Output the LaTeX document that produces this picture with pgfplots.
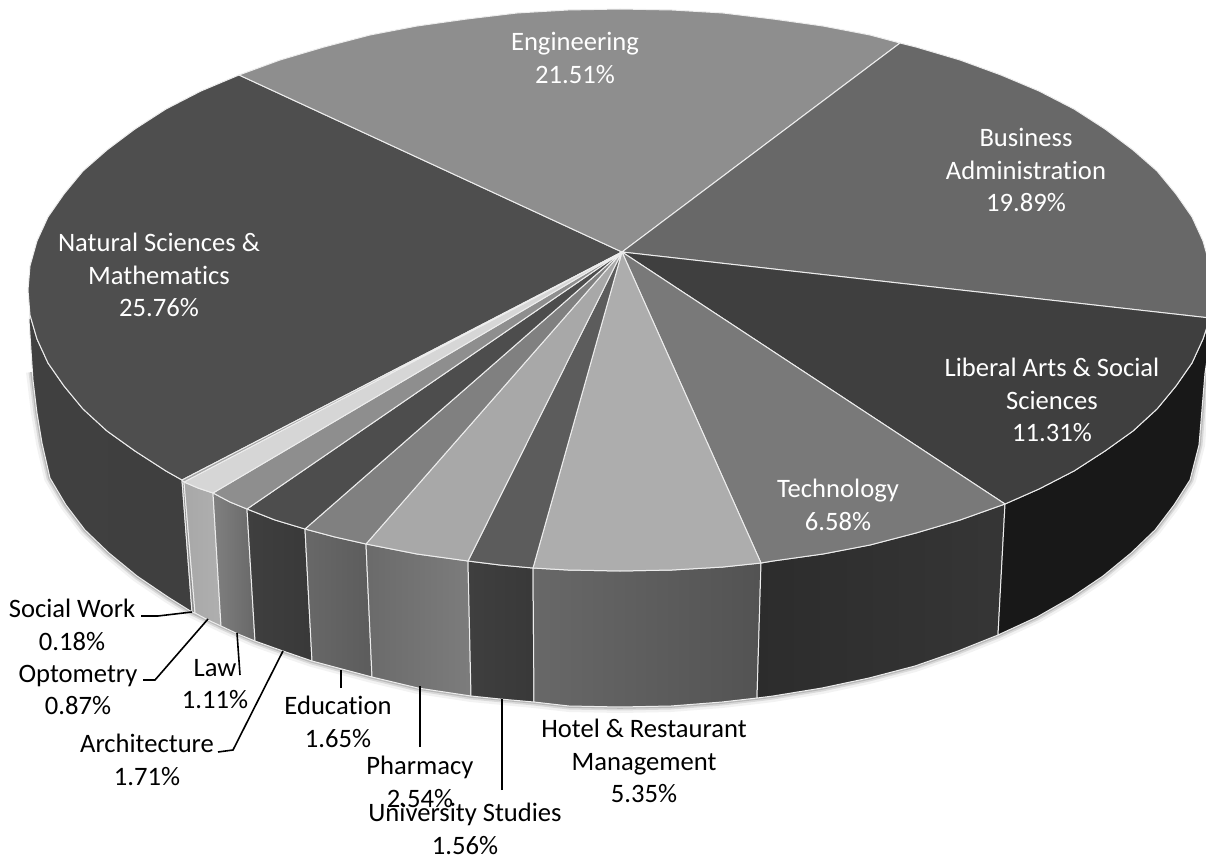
\documentclass[border=0pt]{standalone}
\usepackage{fontspec}
\setmainfont[Ligatures=NoCommon]{Carlito}
\usepackage{pgfplots}
\pgfplotsset{compat=1.18}
\definecolor{nat}{HTML}{4E4E4E}
\definecolor{eng}{HTML}{8E8E8E}
\definecolor{bus}{HTML}{686868}
\definecolor{lib}{HTML}{3F3F3F}
\definecolor{tec}{HTML}{797979}
\definecolor{hot}{HTML}{ADADAD}
\definecolor{uni}{HTML}{5C5C5C}
\definecolor{pha}{HTML}{A8A8A8}
\definecolor{edu}{HTML}{808080}
\definecolor{arc}{HTML}{4D4D4D}
\definecolor{law}{HTML}{8E8E8E}
\definecolor{opt}{HTML}{D6D6D6}
\definecolor{soc}{HTML}{A6A6A6}
\definecolor{edge}{HTML}{EDEDED}
\tikzset{
  top/.style={fill=#1, draw=edge, line width=0.5pt, line join=round},
  wall/.style n args={2}{left color=#1, right color=#2, draw=edge, line width=0.5pt, line join=round},
  lab/.style={align=center, font=\fontsize{13.3}{16.4}\selectfont, inner sep=0pt},
  leader/.style={draw=black, line width=0.8pt}
}
\newcommand{\wlab}[3]{\node[lab, text=white] at (axis cs:#1,#2) {#3};}
\newcommand{\blab}[3]{\node[lab, text=black] at (axis cs:#1,#2) {#3};}
\pgfplotstableread{
x y
32 372
33 380
37 413
42 443
50 478
66 505
85 530
109 553
137 576
168 597
192 612
221 626
255 641
283 651
312 661
342 669
372 677
418 688
471 696
534 702
569 706
620 707
671 706
722 702
757 698
773 696
822 688
869 678
915 666
958 651
998 635
1037 617
1072 597
1103 576
1131 553
1155 530
1174 505
1190 480
1199 445
1205 373
}\shadowedge
\begin{document}
\begin{tikzpicture}
\begin{axis}[
  name=ax,
  scale only axis, width=603pt, height=428pt,
  xmin=0, xmax=1206, ymin=0, ymax=856, y dir=reverse,
  hide axis, clip=true
]
% soft shadow under the body
\addplot[draw=black, opacity=0.05, line width=6pt, line join=round, forget plot] table[x=x,y=y] {\shadowedge};
\addplot[draw=black, opacity=0.10, line width=3.5pt, line join=round, forget plot] table[x=x,y=y] {\shadowedge};
\addplot[draw=black, opacity=0.15, line width=1.8pt, line join=round, forget plot] table[x=x,y=y] {\shadowedge};
% walls
\addplot[wall={nat!82!black}{lib}, forget plot] coordinates {(29,320)(30,315)(37,339)(48,363)(64,386)(83,409)(107,431)(135,451)(166,471)(182,480)(192,612)(168,597)(137,576)(109,553)(85,530)(66,505)(50,478)(42,443)(37,413)(33,380)} -- cycle;
\addplot[wall={soc!85!black}{soc!85!black}, forget plot] coordinates {(182,480)(184,482)(195,613)(192,612)} -- cycle;
\addplot[wall={pha}{pha!92!white}, forget plot] coordinates {(184,482)(198,488)(213,493)(221,626)(208,620)(195,613)} -- cycle;
\addplot[wall={edu}{bus}, forget plot] coordinates {(213,493)(230,502)(247,509)(255,641)(238,634)(221,626)} -- cycle;
\addplot[wall={lib}{lib!90!black}, forget plot] coordinates {(247,509)(275,520)(305,529)(312,661)(283,651)(255,641)} -- cycle;
\addplot[wall={bus}{uni}, forget plot] coordinates {(305,529)(335,537)(366,544)(372,677)(342,669)(312,661)} -- cycle;
\addplot[wall={bus!90!edu}{edu!85!bus}, forget plot] coordinates {(366,544)(417,554)(468,561)(471,696)(418,688)(372,677)} -- cycle;
\addplot[wall={lib}{lib!90!black}, forget plot] coordinates {(468,561)(500,565)(533,568)(534,702)(500,699)(471,696)} -- cycle;
\addplot[wall={bus}{uni!90!black}, forget plot] coordinates {(533,568)(568,570)(620,571)(672,570)(723,567)(761,563)(757,698)(722,702)(671,706)(620,707)(569,706)(534,702)} -- cycle;
\addplot[wall={lib!70!black}{lib!85!black}, forget plot] coordinates {(761,563)(773,561)(823,554)(870,545)(916,533)(960,520)(1005,504)(998,635)(958,651)(915,666)(869,678)(822,688)(773,696)(757,698)} -- cycle;
\addplot[wall={lib!38!black}{lib!38!black}, forget plot] coordinates {(1005,504)(1039,489)(1074,471)(1105,451)(1133,431)(1157,409)(1176,386)(1192,363)(1203,339)(1210,318)(1210,340)(1205,373)(1199,445)(1190,480)(1174,505)(1155,530)(1131,553)(1103,576)(1072,597)(1037,617)(998,635)} -- cycle;
% top face: one closed slice per category
\addplot[top=nat, forget plot] coordinates {(622,252)(182,480)(166,471)(135,451)(107,431)(83,409)(64,386)(48,363)(37,339)(30,315)(28,290)(30,266)(37,241)(48,217)(64,194)(83,171)(107,150)(135,129)(166,109)(201,91)(239,75)} -- cycle;
\addplot[top=eng, forget plot] coordinates {(622,252)(239,75)(280,60)(324,47)(370,35)(417,26)(467,19)(517,13)(568,10)(620,9)(672,10)(723,13)(773,19)(823,26)(870,35)(900,43)} -- cycle;
\addplot[top=bus, forget plot] coordinates {(622,252)(900,43)(916,47)(960,60)(1001,75)(1039,91)(1074,109)(1105,129)(1133,150)(1157,171)(1176,194)(1192,217)(1203,241)(1210,266)(1212,290)(1210,318)} -- cycle;
\addplot[top=lib, forget plot] coordinates {(622,252)(1210,318)(1203,339)(1192,363)(1176,386)(1157,409)(1133,431)(1105,451)(1074,471)(1039,489)(1005,504)} -- cycle;
\addplot[top=tec, forget plot] coordinates {(622,252)(1005,504)(960,520)(916,533)(870,545)(823,554)(773,561)(761,563)} -- cycle;
\addplot[top=hot, forget plot] coordinates {(622,252)(761,563)(723,567)(672,570)(620,571)(568,570)(533,568)} -- cycle;
\addplot[top=uni, forget plot] coordinates {(622,252)(533,568)(500,565)(468,561)} -- cycle;
\addplot[top=pha, forget plot] coordinates {(622,252)(468,561)(417,554)(366,544)} -- cycle;
\addplot[top=edu, forget plot] coordinates {(622,252)(366,544)(335,537)(305,529)} -- cycle;
\addplot[top=arc, forget plot] coordinates {(622,252)(305,529)(275,520)(247,509)} -- cycle;
\addplot[top=law, forget plot] coordinates {(622,252)(247,509)(230,502)(213,493)} -- cycle;
\addplot[top=opt, forget plot] coordinates {(622,252)(213,493)(198,488)(184,482)} -- cycle;
\addplot[top=soc, forget plot] coordinates {(622,252)(184,482)(182,480)} -- cycle;
% leader lines
\addplot[leader, forget plot] coordinates {(141,616)(158,616)(192,612)};
\addplot[leader, forget plot] coordinates {(143,680)(155,680)(208,619)};
\addplot[leader, forget plot] coordinates {(240,675)(237,633)};
\addplot[leader, forget plot] coordinates {(218,752)(233,750)(283,651)};
\addplot[leader, forget plot] coordinates {(341,688)(341,670)};
\addplot[leader, forget plot] coordinates {(420,747)(420,686)};
\addplot[leader, forget plot] coordinates {(502,790)(502,699)};
% labels
\wlab{575}{58}{Engineering\\21.51\%}
\wlab{1026}{170}{Business\\Administration\\19.89\%}
\wlab{159}{275}{Natural Sciences \&\\Mathematics\\25.76\%}
\wlab{1052}{400}{Liberal Arts \& Social\\Sciences\\11.31\%}
\wlab{838}{505}{Technology\\6.58\%}
\blab{644}{761}{Hotel \& Restaurant\\Management\\5.35\%}
\blab{72}{625}{Social Work\\0.18\%}
\blab{78}{690}{Optometry\\0.87\%}
\blab{215}{684}{Law\\1.11\%}
\blab{147}{760}{Architecture\\1.71\%}
\blab{338}{722}{Education\\1.65\%}
\blab{420}{782}{Pharmacy\\2.54\%}
\blab{465}{829}{University Studies\\1.56\%}
\end{axis}
\pgfresetboundingbox
\path[use as bounding box] (ax.south west) rectangle (ax.north east);
\end{tikzpicture}
\end{document}
